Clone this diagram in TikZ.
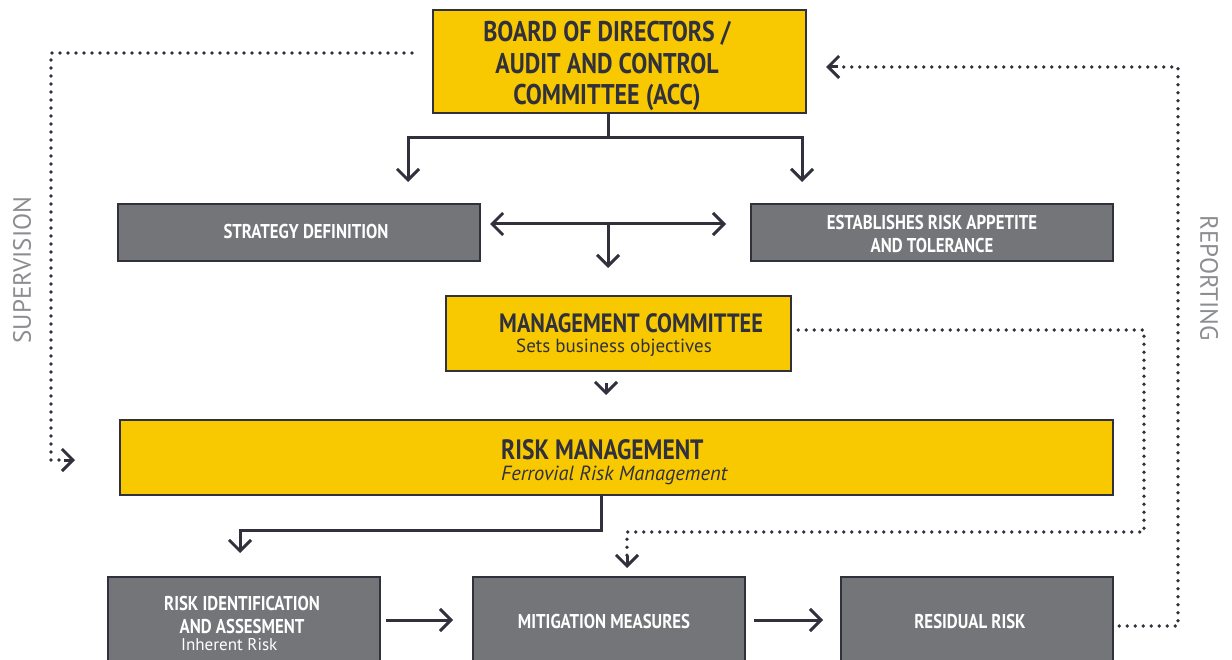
\documentclass[tikz,border=0pt]{standalone}
\usepackage{fontspec}
\setmainfont{PT Sans}
\newfontfamily\cond{PT Sans}[FakeStretch=0.84]
\usetikzlibrary{arrows.meta}
\definecolor{fyellow}{HTML}{F8C900}
\definecolor{fgray}{HTML}{747578}
\definecolor{fdark}{HTML}{31313D}
\definecolor{flabel}{HTML}{8C8D90}
\begin{document}
\begin{tikzpicture}[x=1pt,y=-1pt,
  ybox/.style={draw=fdark,line width=2.5pt,fill=fyellow,rectangle,inner sep=0pt},
  gbox/.style={draw=fdark,line width=2.5pt,fill=fgray,rectangle,inner sep=0pt},
  wtxt/.style={text=white,font=\cond\bfseries\fontsize{20}{23}\selectfont,align=center,inner sep=0pt},
  dtxt/.style={text=fdark,inner sep=0pt},
  conn/.style={draw=fdark,line width=3pt,-{Straight Barb[length=11pt,width=22pt,line width=3pt]}},
  dconn/.style={draw=fdark,line width=3.8pt,line cap=round,dash pattern=on 0pt off 8pt},
  side/.style={text=flabel,font=\fontsize{25}{28}\selectfont,inner sep=0pt}
]
\useasboundingbox (0,0) rectangle (1232,660);

% boxes
\node[ybox,minimum width=373pt,minimum height=103pt] (board) at (619.5,61.5) {};
\node[gbox,minimum width=362pt,minimum height=57pt] (strat) at (299,232.5) {};
\node[gbox,minimum width=362pt,minimum height=57pt] (appet) at (932,232.5) {};
\node[ybox,minimum width=345pt,minimum height=75pt] (mgmt) at (618.5,333.5) {};
\node[ybox,minimum width=993pt,minimum height=75pt] (riskm) at (616.5,457.5) {};
\node[gbox,minimum width=272pt,minimum height=110pt] (ident) at (244,632) {};
\node[gbox,minimum width=272pt,minimum height=110pt] (mitig) at (609,632) {};
\node[gbox,minimum width=272pt,minimum height=110pt] (resid) at (977,632) {};

% texts
\node[dtxt,font=\cond\bfseries\fontsize{28.5}{31.5}\selectfont,align=center] (boardtxt) at (607,66) {BOARD OF DIRECTORS /\\AUDIT AND CONTROL\\COMMITTEE (ACC)};
\node[wtxt] (strattxt) at (306,232) {STRATEGY DEFINITION};
\node[wtxt] (appettxt) at (932,234) {ESTABLISHES RISK APPETITE\\AND TOLERANCE};
\node[dtxt,font=\cond\bfseries\fontsize{26.5}{30}\selectfont,anchor=west] (mgmttxt) at (499,323) {MANAGEMENT COMMITTEE};
\node[dtxt,font=\fontsize{19}{23}\selectfont,anchor=west] (mgmtsub) at (516,348) {Sets business objectives};
\node[dtxt,font=\cond\bfseries\fontsize{28}{30}\selectfont,anchor=west] (riskmtxt) at (501,450) {RISK MANAGEMENT};
\node[dtxt,font=\itshape\fontsize{20.5}{23}\selectfont,anchor=west] (riskmsub) at (501,475) {Ferrovial Risk Management};
\node[wtxt] (identtxt) at (242,615) {RISK IDENTIFICATION\\AND ASSESMENT};
\node[text=white,inner sep=0pt,font=\fontsize{17}{20}\selectfont,anchor=west] (identsub) at (181,645) {Inherent Risk};
\node[wtxt] (mitigtxt) at (604,621) {MITIGATION MEASURES};
\node[wtxt] (residtxt) at (970,621) {RESIDUAL RISK};
\node[side,rotate=90] (sup) at (22,270) {SUPERVISION};
\node[side,rotate=-90] (rep) at (1209,278) {REPORTING};

% solid connectors
\coordinate (t1) at (408,182);
\coordinate (t2) at (802,182);
\coordinate (j1) at (608,138);
\draw[conn] ([xshift=-11.5pt]board.south) -- (j1) -| (t1);
\draw[conn] (j1) -| (t2);
\coordinate (d1) at (490,224);
\coordinate (d2) at (726,224);
\coordinate (d3) at (608,268);
\draw[conn,{Straight Barb[length=11pt,width=22pt,line width=3pt]}-{Straight Barb[length=11pt,width=22pt,line width=3pt]}] (d1) -- (d2);
\draw[conn] (608,224) -- (d3);
\coordinate (c1) at (606,395);
\draw[conn] (606,383) -- (c1);
\coordinate (t4) at (240,553);
\draw[conn] ([xshift=-15.5pt]riskm.south) -- (601,530) -| (t4);
\coordinate (a1) at (453,620);
\coordinate (a2) at (823,620);
\draw[conn] (386,620) -- (a1);
\draw[conn] (754,620) -- (a2);

% dotted connectors
\coordinate (s0) at (412,53);
\coordinate (s1) at (75,460);
\draw[dconn] (s0) -- (51,53) -- (51,460) -- (66,460);
\draw[conn] (64,460) -- (s1);
\coordinate (r1) at (826,67);
\draw[dconn] ([xshift=5pt]resid.east |- 0,626) -- (1178,626) -- (1178,67) -- (836,67);
\draw[conn] (838,67) -- (r1);
\coordinate (m1) at (627,568);
\draw[dconn] ([xshift=6pt]mgmt.east |- 0,330) -- (1144,330) -- (1144,532) -- (627,532) -- (627,556);
\draw[conn] (627,556) -- (m1);
\end{tikzpicture}
\end{document}
